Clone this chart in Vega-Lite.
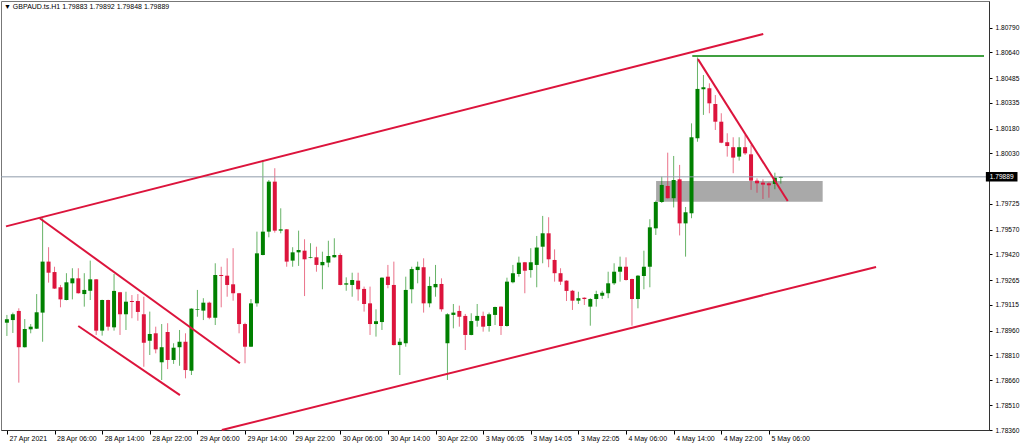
{
"$schema": "https://vega.github.io/schema/vega-lite/v6.json",
"width": 988, "height": 429,
"autosize": "none",
"padding": {"left": 1, "top": 1, "right": 35, "bottom": 17},
"background": "white",
"config": {
  "view": {"stroke": "#777777", "strokeWidth": 1},
  "font": "Liberation Sans",
  "axis": {"labelOverlap": false, "labelBound": false, "labelFlush": false}
},
"title": {"text": "▼  GBPAUD.ts.H1  1.79883 1.79892 1.79848 1.79889", "anchor": "start", "frame": "group", "orient": "top", "offset": -9, "dx": 3, "fontSize": 7, "fontWeight": "normal", "font": "Liberation Sans", "color": "#000000"},
"datasets": {
"candles": [
{"i":0,"o":1.79008,"h":1.79055,"l":1.78928,"c":1.79029},
{"i":1,"o":1.79024,"h":1.79069,"l":1.78946,"c":1.79059},
{"i":2,"o":1.79079,"h":1.79095,"l":1.78646,"c":1.78860},
{"i":3,"o":1.78860,"h":1.79030,"l":1.78858,"c":1.78970},
{"i":4,"o":1.78968,"h":1.79000,"l":1.78944,"c":1.78984},
{"i":5,"o":1.78972,"h":1.79181,"l":1.78970,"c":1.79071},
{"i":6,"o":1.79069,"h":1.79639,"l":1.78893,"c":1.79377},
{"i":7,"o":1.79377,"h":1.79464,"l":1.79250,"c":1.79310},
{"i":8,"o":1.79314,"h":1.79346,"l":1.79212,"c":1.79214},
{"i":9,"o":1.79222,"h":1.79236,"l":1.79101,"c":1.79149},
{"i":10,"o":1.79145,"h":1.79307,"l":1.79143,"c":1.79252},
{"i":11,"o":1.79246,"h":1.79337,"l":1.79149,"c":1.79276},
{"i":12,"o":1.79276,"h":1.79337,"l":1.79184,"c":1.79186},
{"i":13,"o":1.79181,"h":1.79307,"l":1.79105,"c":1.79206},
{"i":14,"o":1.79201,"h":1.79383,"l":1.79145,"c":1.79270},
{"i":15,"o":1.79270,"h":1.79272,"l":1.78934,"c":1.78960},
{"i":16,"o":1.78960,"h":1.79147,"l":1.78930,"c":1.79145},
{"i":17,"o":1.79145,"h":1.79147,"l":1.78960,"c":1.78984},
{"i":18,"o":1.78980,"h":1.79302,"l":1.78960,"c":1.79200},
{"i":19,"o":1.79192,"h":1.79194,"l":1.78934,"c":1.79059},
{"i":20,"o":1.79059,"h":1.79195,"l":1.78964,"c":1.79135},
{"i":21,"o":1.79139,"h":1.79175,"l":1.79035,"c":1.79133},
{"i":22,"o":1.79139,"h":1.79181,"l":1.79020,"c":1.79073},
{"i":23,"o":1.79059,"h":1.79165,"l":1.78742,"c":1.78887},
{"i":24,"o":1.78899,"h":1.79075,"l":1.78813,"c":1.78940},
{"i":25,"o":1.78944,"h":1.78984,"l":1.78823,"c":1.78847},
{"i":26,"o":1.78769,"h":1.79000,"l":1.78662,"c":1.78860},
{"i":27,"o":1.78952,"h":1.79005,"l":1.78728,"c":1.78783},
{"i":28,"o":1.78783,"h":1.78884,"l":1.78759,"c":1.78857},
{"i":29,"o":1.78860,"h":1.78964,"l":1.78748,"c":1.78893},
{"i":30,"o":1.78893,"h":1.78944,"l":1.78672,"c":1.78722},
{"i":31,"o":1.78718,"h":1.79095,"l":1.78692,"c":1.79093},
{"i":32,"o":1.79085,"h":1.79206,"l":1.79044,"c":1.79089},
{"i":33,"o":1.79081,"h":1.79156,"l":1.79024,"c":1.79129},
{"i":34,"o":1.79129,"h":1.79135,"l":1.79029,"c":1.79038},
{"i":35,"o":1.79038,"h":1.79367,"l":1.78994,"c":1.79296},
{"i":36,"o":1.79296,"h":1.79346,"l":1.79101,"c":1.79290},
{"i":37,"o":1.79292,"h":1.79397,"l":1.79165,"c":1.79236},
{"i":38,"o":1.79240,"h":1.79458,"l":1.79141,"c":1.79186},
{"i":39,"o":1.79186,"h":1.79188,"l":1.78944,"c":1.79000},
{"i":40,"o":1.79000,"h":1.79008,"l":1.78763,"c":1.78863},
{"i":41,"o":1.78863,"h":1.79151,"l":1.78861,"c":1.79125},
{"i":42,"o":1.79125,"h":1.79558,"l":1.79105,"c":1.79427},
{"i":43,"o":1.79417,"h":1.79991,"l":1.79415,"c":1.79558},
{"i":44,"o":1.79558,"h":1.79870,"l":1.79524,"c":1.79860},
{"i":45,"o":1.79860,"h":1.79941,"l":1.79552,"c":1.79564},
{"i":46,"o":1.79564,"h":1.79699,"l":1.79548,"c":1.79572},
{"i":47,"o":1.79572,"h":1.79574,"l":1.79346,"c":1.79377},
{"i":48,"o":1.79383,"h":1.79464,"l":1.79346,"c":1.79433},
{"i":49,"o":1.79433,"h":1.79564,"l":1.79351,"c":1.79447},
{"i":50,"o":1.79443,"h":1.79512,"l":1.79169,"c":1.79391},
{"i":51,"o":1.79399,"h":1.79488,"l":1.79397,"c":1.79403},
{"i":52,"o":1.79403,"h":1.79467,"l":1.79316,"c":1.79357},
{"i":53,"o":1.79355,"h":1.79437,"l":1.79210,"c":1.79375},
{"i":54,"o":1.79371,"h":1.79503,"l":1.79343,"c":1.79411},
{"i":55,"o":1.79403,"h":1.79518,"l":1.79401,"c":1.79417},
{"i":56,"o":1.79417,"h":1.79427,"l":1.79234,"c":1.79236},
{"i":57,"o":1.79238,"h":1.79282,"l":1.79201,"c":1.79246},
{"i":58,"o":1.79236,"h":1.79310,"l":1.79165,"c":1.79266},
{"i":59,"o":1.79262,"h":1.79310,"l":1.79141,"c":1.79210},
{"i":60,"o":1.79212,"h":1.79226,"l":1.79075,"c":1.79121},
{"i":61,"o":1.79125,"h":1.79226,"l":1.78934,"c":1.79000},
{"i":62,"o":1.79000,"h":1.79089,"l":1.78924,"c":1.79017},
{"i":63,"o":1.79012,"h":1.79282,"l":1.78964,"c":1.79280},
{"i":64,"o":1.79286,"h":1.79357,"l":1.79216,"c":1.79236},
{"i":65,"o":1.79236,"h":1.79377,"l":1.78871,"c":1.78873},
{"i":66,"o":1.78873,"h":1.78914,"l":1.78692,"c":1.78893},
{"i":67,"o":1.78884,"h":1.79286,"l":1.78863,"c":1.79206},
{"i":68,"o":1.79210,"h":1.79346,"l":1.79125,"c":1.79332},
{"i":69,"o":1.79326,"h":1.79377,"l":1.79246,"c":1.79346},
{"i":70,"o":1.79343,"h":1.79397,"l":1.79069,"c":1.79125},
{"i":71,"o":1.79125,"h":1.79286,"l":1.79101,"c":1.79230},
{"i":72,"o":1.79222,"h":1.79357,"l":1.79165,"c":1.79242},
{"i":73,"o":1.79242,"h":1.79276,"l":1.79075,"c":1.79089},
{"i":74,"o":1.78884,"h":1.79065,"l":1.78662,"c":1.79059},
{"i":75,"o":1.79055,"h":1.79121,"l":1.78974,"c":1.79069},
{"i":76,"o":1.79079,"h":1.79111,"l":1.78984,"c":1.79044},
{"i":77,"o":1.79049,"h":1.79061,"l":1.78843,"c":1.78934},
{"i":78,"o":1.78934,"h":1.79065,"l":1.78932,"c":1.79018},
{"i":79,"o":1.79020,"h":1.79121,"l":1.78984,"c":1.79049},
{"i":80,"o":1.79049,"h":1.79075,"l":1.78954,"c":1.78984},
{"i":81,"o":1.78988,"h":1.79069,"l":1.78954,"c":1.79059},
{"i":82,"o":1.79055,"h":1.79105,"l":1.78994,"c":1.79103},
{"i":83,"o":1.79105,"h":1.79107,"l":1.78934,"c":1.78988},
{"i":84,"o":1.78988,"h":1.79280,"l":1.78984,"c":1.79256},
{"i":85,"o":1.79252,"h":1.79357,"l":1.79246,"c":1.79307},
{"i":86,"o":1.79302,"h":1.79407,"l":1.79286,"c":1.79371},
{"i":87,"o":1.79373,"h":1.79375,"l":1.79186,"c":1.79322},
{"i":88,"o":1.79326,"h":1.79458,"l":1.79280,"c":1.79373},
{"i":89,"o":1.79357,"h":1.79532,"l":1.79222,"c":1.79462},
{"i":90,"o":1.79467,"h":1.79653,"l":1.79367,"c":1.79548},
{"i":91,"o":1.79548,"h":1.79645,"l":1.79343,"c":1.79391},
{"i":92,"o":1.79387,"h":1.79451,"l":1.79256,"c":1.79307},
{"i":93,"o":1.79307,"h":1.79337,"l":1.79236,"c":1.79256},
{"i":94,"o":1.79262,"h":1.79264,"l":1.79139,"c":1.79200},
{"i":95,"o":1.79201,"h":1.79206,"l":1.79085,"c":1.79141},
{"i":96,"o":1.79141,"h":1.79195,"l":1.79121,"c":1.79156},
{"i":97,"o":1.79159,"h":1.79161,"l":1.79115,"c":1.79151},
{"i":98,"o":1.79105,"h":1.79156,"l":1.78990,"c":1.79151},
{"i":99,"o":1.79151,"h":1.79201,"l":1.79105,"c":1.79181},
{"i":100,"o":1.79171,"h":1.79201,"l":1.79151,"c":1.79189},
{"i":101,"o":1.79186,"h":1.79316,"l":1.79156,"c":1.79246},
{"i":102,"o":1.79246,"h":1.79367,"l":1.79236,"c":1.79316},
{"i":103,"o":1.79316,"h":1.79407,"l":1.79256,"c":1.79346},
{"i":104,"o":1.79346,"h":1.79403,"l":1.79262,"c":1.79266},
{"i":105,"o":1.79272,"h":1.79274,"l":1.78990,"c":1.79151},
{"i":106,"o":1.79151,"h":1.79296,"l":1.79095,"c":1.79292},
{"i":107,"o":1.79290,"h":1.79443,"l":1.79210,"c":1.79346},
{"i":108,"o":1.79346,"h":1.79633,"l":1.79222,"c":1.79584},
{"i":109,"o":1.79578,"h":1.79745,"l":1.79538,"c":1.79737},
{"i":110,"o":1.79737,"h":1.79890,"l":1.79731,"c":1.79840},
{"i":111,"o":1.79834,"h":1.80035,"l":1.79758,"c":1.79760},
{"i":112,"o":1.79760,"h":1.80015,"l":1.79704,"c":1.79870},
{"i":113,"o":1.79874,"h":1.79961,"l":1.79535,"c":1.79608},
{"i":114,"o":1.79608,"h":1.79707,"l":1.79407,"c":1.79675},
{"i":115,"o":1.79669,"h":1.80212,"l":1.79639,"c":1.80128},
{"i":116,"o":1.80122,"h":1.80610,"l":1.80101,"c":1.80420},
{"i":117,"o":1.80418,"h":1.80504,"l":1.80263,"c":1.80430},
{"i":118,"o":1.80424,"h":1.80454,"l":1.80273,"c":1.80333},
{"i":119,"o":1.80329,"h":1.80383,"l":1.80172,"c":1.80222},
{"i":120,"o":1.80222,"h":1.80273,"l":1.80092,"c":1.80095},
{"i":121,"o":1.80098,"h":1.80152,"l":1.80011,"c":1.80075},
{"i":122,"o":1.80068,"h":1.80128,"l":1.79911,"c":1.80005},
{"i":123,"o":1.80011,"h":1.80128,"l":1.79987,"c":1.80068},
{"i":124,"o":1.80068,"h":1.80142,"l":1.80021,"c":1.80031},
{"i":125,"o":1.80025,"h":1.80081,"l":1.79810,"c":1.79866},
{"i":126,"o":1.79866,"h":1.79880,"l":1.79793,"c":1.79850},
{"i":127,"o":1.79854,"h":1.79874,"l":1.79755,"c":1.79842},
{"i":128,"o":1.79850,"h":1.79856,"l":1.79763,"c":1.79838},
{"i":129,"o":1.79846,"h":1.79914,"l":1.79814,"c":1.79884},
{"i":130,"o":1.79883,"h":1.79892,"l":1.79848,"c":1.79889}
],
"trend": [
{"name":"upper channel","x1":-0.15,"p1":1.79590,"x2":127.05,"p2":1.80752},
{"name":"lower channel","x1":36.1,"p1":1.78360,"x2":146.0,"p2":1.79345},
{"name":"falling upper","x1":5.51,"p1":1.79639,"x2":39.14,"p2":1.78763},
{"name":"falling lower","x1":11.99,"p1":1.78988,"x2":29.07,"p2":1.78571},
{"name":"drop line","x1":116.08,"p1":1.80600,"x2":131.16,"p2":1.79743}
],
"level": [
{"name":"high","x1":115.13,"x2":164.13,"p":1.80619}
],
"zone": [
{"name":"support","x1":109.05,"x2":137.03,"p1":1.79739,"p2":1.79864}
],
"last": [
{"price":1.79889}
]
},
"layer": [
{
 "data": {"name": "zone"},
 "mark": {"type": "rect", "color": "#a9a9a9"},
 "encoding": {
  "x": {"field": "x1", "type": "quantitative", "title": null,
   "scale": {"domain": [-0.15, 164.13], "nice": false, "zero": false},
   "axis": {"values": [0,8,16,24,32,40,48,56,64,72,80,88,96,104,112,120,128], "tickCount": 100,
     "labelExpr": "['27 Apr 2021','28 Apr 06:00','28 Apr 14:00','28 Apr 22:00','29 Apr 06:00','29 Apr 14:00','29 Apr 22:00','30 Apr 06:00','30 Apr 14:00','30 Apr 22:00','3 May 06:05','3 May 14:05','3 May 22:05','4 May 06:00','4 May 14:00','4 May 22:00','5 May 06:00'][round(datum.value/8)]",
     "grid": false, "tickSize": 4, "tickColor": "#000000", "domainColor": "#333333",
     "labelAlign": "left", "labelBaseline": "top", "labelPadding": 0, "labelOffset": 2,
     "labelFont": "Liberation Sans", "labelFontSize": 7, "labelColor": "#000000",
     "labelOverlap": false, "labelFlush": false}},
  "x2": {"field": "x2"},
  "y": {"field": "p1", "type": "quantitative", "title": null,
   "scale": {"domain": [1.7836, 1.80951], "nice": false, "zero": false},
   "axis": {"orient": "right", "values": [1.7836,1.7851,1.7866,1.7881,1.7896,1.79115,1.79265,1.7942,1.7957,1.79725,1.8003,1.8018,1.80335,1.80485,1.8064,1.8079], "tickCount": 100,
     "format": ".5f", "grid": false, "tickSize": 3, "tickColor": "#000000", "domainColor": "#333333",
     "labelPadding": 3, "labelAlign": "left", "labelBaseline": "middle",
     "labelFont": "Liberation Sans", "labelFontSize": 6.6, "labelColor": "#000000",
     "labelOverlap": false, "labelFlush": false, "labelBound": false}},
  "y2": {"field": "p2"}
 }
},
{
 "data": {"name": "candles"},
 "mark": {"type": "rule", "strokeWidth": 1, "opacity": 0.6},
 "encoding": {
  "x": {"field": "i", "type": "quantitative", "title": null},
  "y": {"field": "l", "type": "quantitative", "title": null},
  "y2": {"field": "h"},
  "color": {"condition": {"test": "datum.c >= datum.o", "value": "#008000"}, "value": "#dc143c"}
 }
},
{
 "data": {"name": "candles"},
 "mark": {"type": "bar", "size": 4, "orient": "vertical"},
 "encoding": {
  "x": {"field": "i", "type": "quantitative", "title": null},
  "y": {"field": "o", "type": "quantitative", "title": null},
  "y2": {"field": "c"},
  "color": {"condition": {"test": "datum.c >= datum.o", "value": "#008000"}, "value": "#dc143c"}
 }
},
{
 "data": {"name": "last"},
 "mark": {"type": "rule", "color": "#8f9cab", "strokeWidth": 1},
 "encoding": {
  "y": {"field": "price", "type": "quantitative", "title": null}
 }
},
{
 "data": {"name": "trend"},
 "mark": {"type": "rule", "color": "#dc143c", "strokeWidth": 2},
 "encoding": {
  "x": {"field": "x1", "type": "quantitative", "title": null},
  "x2": {"field": "x2"},
  "y": {"field": "p1", "type": "quantitative", "title": null},
  "y2": {"field": "p2"}
 }
},
{
 "data": {"name": "level"},
 "mark": {"type": "rule", "color": "#008000", "strokeWidth": 1.6},
 "encoding": {
  "x": {"field": "x1", "type": "quantitative", "title": null},
  "x2": {"field": "x2"},
  "y": {"field": "p", "type": "quantitative", "title": null}
 }
},
{
 "data": {"name": "last"},
 "mark": {"type": "point", "filled": true, "color": "#000000", "opacity": 1, "shape": "M-1,-0.3H1V0.3H-1Z", "size": 1000},
 "encoding": {
  "x": {"datum": 167.1, "type": "quantitative"},
  "y": {"field": "price", "type": "quantitative", "title": null}
 }
},
{
 "data": {"name": "last"},
 "mark": {"type": "text", "color": "#ffffff", "font": "Liberation Sans", "fontSize": 6.6, "align": "center", "baseline": "middle"},
 "encoding": {
  "x": {"datum": 167.1, "type": "quantitative"},
  "y": {"field": "price", "type": "quantitative", "title": null},
  "text": {"field": "price", "type": "quantitative", "format": ".5f"}
 }
}
]
}
